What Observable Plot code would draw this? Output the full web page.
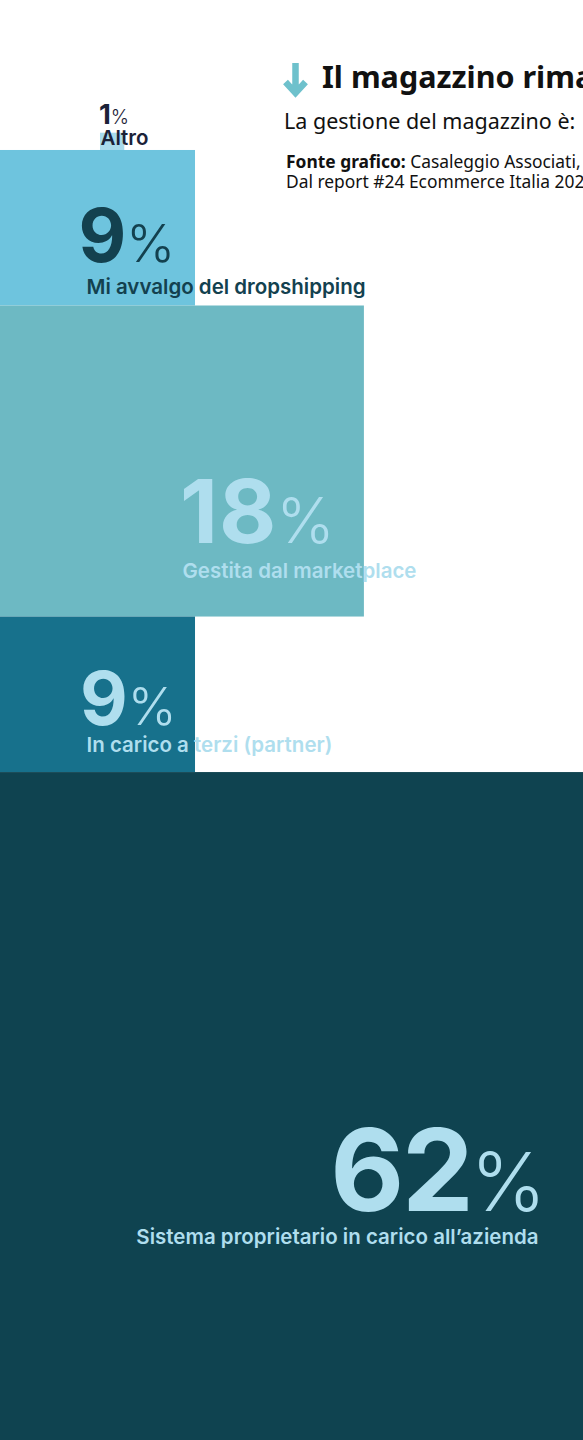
<!DOCTYPE html>
<html>
<head>
<meta charset="utf-8">
<script src="https://cdn.jsdelivr.net/npm/d3@7"></script>
<script src="https://cdn.jsdelivr.net/npm/@observablehq/plot@0.6"></script>
<style>
  html, body { margin: 0; padding: 0; width: 583px; height: 1440px; overflow: hidden; background: #ffffff; }
  #wrap { position: relative; width: 583px; height: 1440px; overflow: hidden; }
  #chart { position: absolute; left: 0; top: 0; }
  #chart svg { overflow: hidden; }
  .hd { position: absolute; white-space: nowrap; line-height: 1; font-family: "Noto Sans", sans-serif; color: #111; }
  #title { left: 322px; top: 61px; font-size: 30.5px; font-weight: 700; }
  #subtitle { left: 284px; top: 110px; font-size: 21.5px; font-weight: 400; }
  #source { left: 286px; top: 152px; font-size: 17.4px; line-height: 19.5px; font-weight: 400; }
  #arrow { position: absolute; left: 282px; top: 61px; }
</style>
</head>
<body>
<div id="wrap">
  <div id="chart"></div>
  <svg id="arrow" width="28" height="38" viewBox="0 0 28 38">
    <path d="M13.5,2 V33 M3.5,21 L13.5,32 L23.5,21" fill="none" stroke="#6ec1cc" stroke-width="6.5" stroke-linejoin="miter"/>
  </svg>
  <div class="hd" id="title">Il magazzino rimane</div>
  <div class="hd" id="subtitle">La gestione del magazzino è:</div>
  <div class="hd" id="source"><b>Fonte grafico:</b> Casaleggio Associati,<br>Dal report #24 Ecommerce Italia 2024</div>
</div>
<script>
// ---- data ----
const categories = [
  "Altro",
  "Mi avvalgo del dropshipping",
  "Gestita dal marketplace",
  "In carico a terzi (partner)",
  "Sistema proprietario in carico all’azienda"
];
const values = [1, 9, 18, 9, 62];
const suffix = "%";

// ---- layout / style (not data) ----
const W = 583, H = 1440;
const pxPerUnit = 17.28;            // vertical pixels per percentage point
const yTop = -132.7 / pxPerUnit;    // domain value at the top edge
const fills = ["#a9dbec", "#6ec4de", "#6db9c3", "#17718c", "#0f4350"];
const inks  = ["#1b2238", "#13414f", "#afdeee", "#afdeee", "#afdeee"];
const labelX = [17.15, 14.75, 31.22, 14.75, 92.28];   // % of frame width
const numX   = [16.9, 13.38, 30.8, 13.64, 93.6];
const anchors = ["start", "start", "start", "start", "end"];
const labelY = [0.654, 0.92, 0.873, 0.869, 0.4405];   // fraction through band
const numY   = [-0.515, 0.72, 0.7606, 0.691, 0.409];
const widthOf = d3.scalePow().exponent(0.9).domain([0, 9]).range([0, 33.45]);
const numSize = d3.scaleLog().domain([1, 62]).range([27.5, 114]);
const pctRatio = 0.71;
const labelSize = 20.5;

let acc = 0;
const rows = categories.map((c, i) => {
  const r = {i, cat: c, value: values[i], y1: acc, y2: acc + values[i]};
  acc += values[i];
  return r;
});
rows.forEach(d => {
  d.x1 = d.i === 0 ? labelX[0] : 0;          // Altro: small highlight behind its label
  d.x2 = d.x1 + widthOf(d.value) * (d.i === 0 ? 0.9 : 1);
  d.ly = d.y1 + labelY[d.i] * d.value;
  d.ny = d.y1 + numY[d.i] * d.value;
  d.fs = numSize(d.value);
});

const startRows = rows.filter(d => anchors[d.i] === "start");
const endRows = rows.filter(d => anchors[d.i] === "end");

const numberMark = (data, anchor) => Plot.text(data, {
  x: d => numX[d.i], y: "ny", text: d => String(d.value),
  fill: d => inks[d.i], fontSize: "fs", fontWeight: 700,
  textAnchor: anchor, lineAnchor: "bottom"
});
const labelMark = (data, anchor) => Plot.text(data, {
  x: d => labelX[d.i], y: "ly", text: "cat",
  fill: d => inks[d.i], fontSize: labelSize, fontWeight: 600,
  textAnchor: anchor, lineAnchor: "bottom"
});

const plot = Plot.plot({
  width: W,
  height: H,
  margin: 0,
  x: {domain: [0, 100], axis: null},
  y: {domain: [yTop, yTop + H / pxPerUnit], reverse: true, axis: null},
  color: {type: "identity"},
  style: {background: "transparent", fontFamily: "Inter, sans-serif", overflow: "hidden"},
  marks: [
    Plot.rect(rows, {x1: "x1", x2: "x2", y1: "y1", y2: "y2", fill: d => fills[d.i]}),
    numberMark(startRows, "start"),
    numberMark(endRows, "end"),
    labelMark(startRows, "start"),
    labelMark(endRows, "end")
  ]
});

// add the lighter, smaller percent sign after each number
const valueStrings = new Set(values.map(String));
d3.select(plot).selectAll("text").each(function() {
  const t = d3.select(this);
  const num = t.text();
  if (!valueStrings.has(num) || this.querySelector("tspan")) return;
  const fs = parseFloat(t.attr("font-size")) || 24;
  t.text(null);
  t.append("tspan").attr("letter-spacing", num === "62" ? "-0.02em" : "0.01em").text(num);
  t.append("tspan")
    .attr("font-size", (fs * pctRatio).toFixed(1))
    .attr("font-weight", 300)
    .attr("dx", (-fs * 0.01).toFixed(1))
    .text(suffix);
});

document.getElementById("chart").appendChild(plot);
</script>
</body>
</html>
